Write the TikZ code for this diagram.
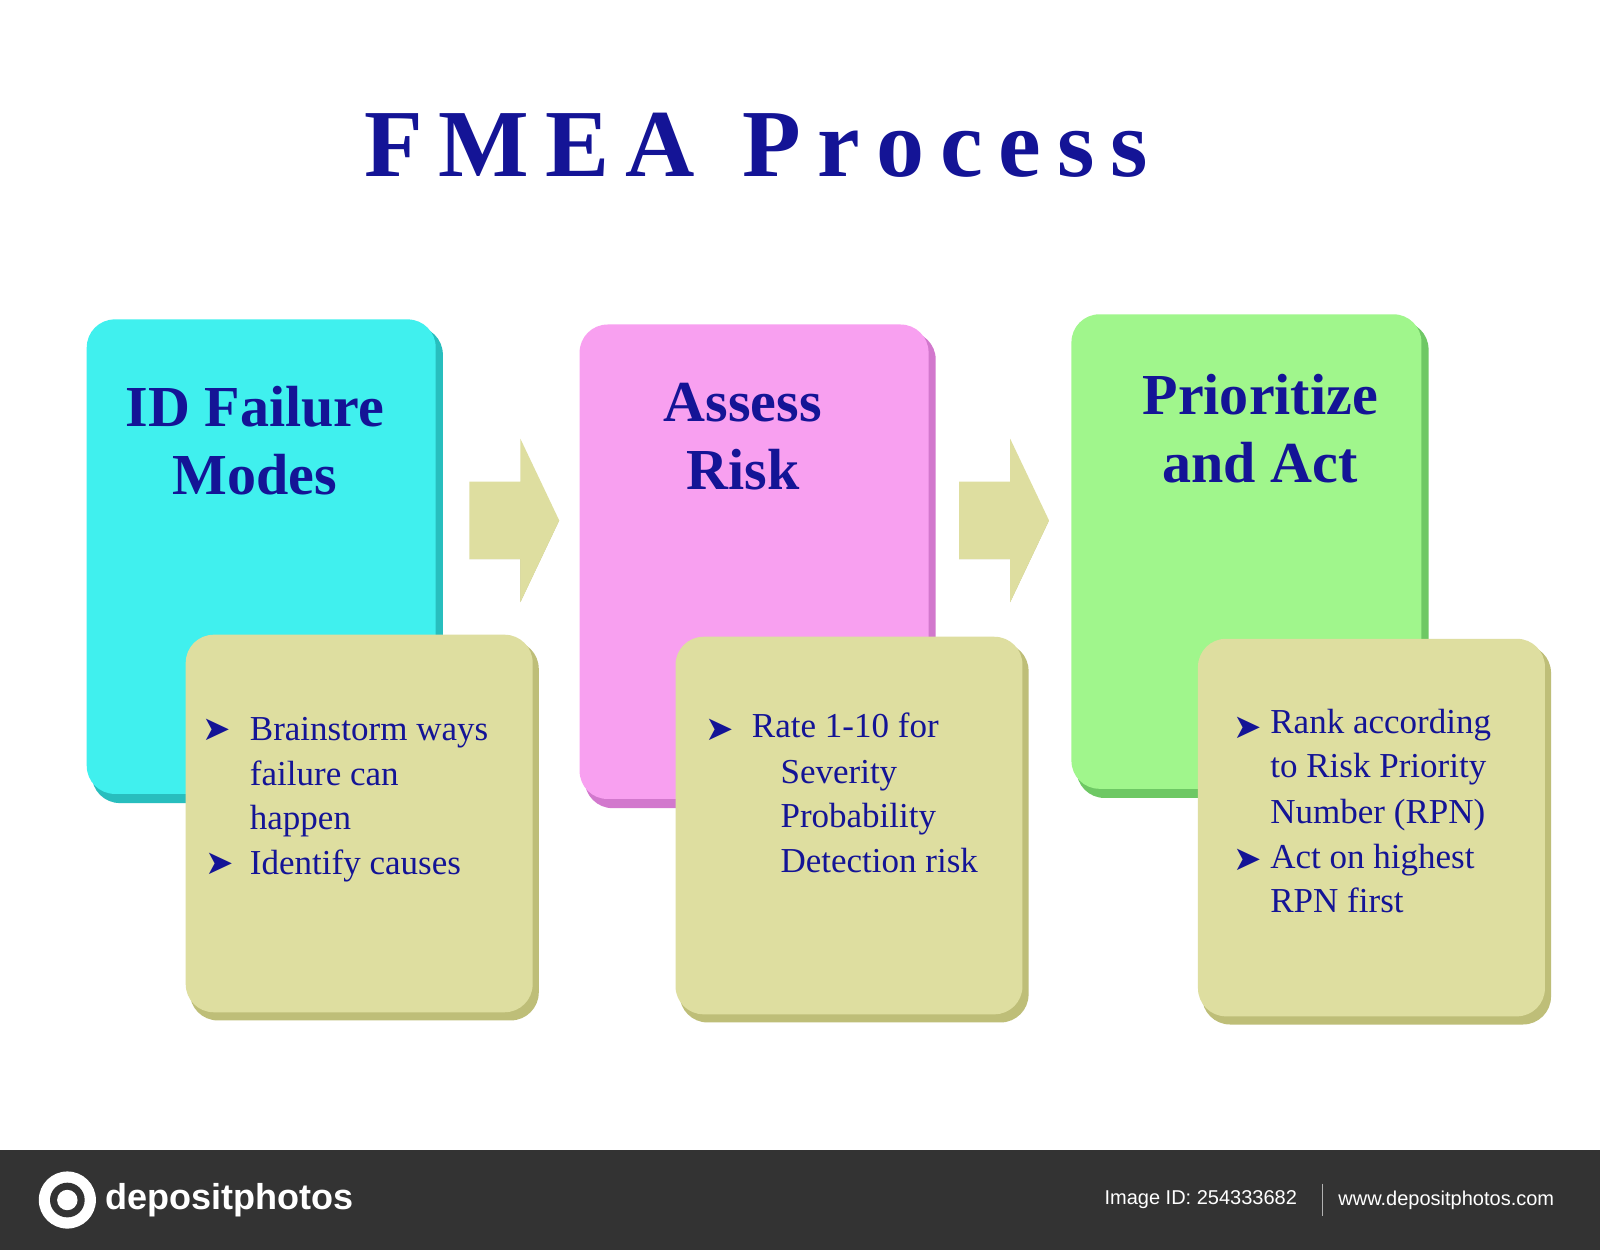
\documentclass[tikz,border=0pt]{standalone}
\usepackage{fontspec}
\setmainfont{Liberation Serif}
\newfontfamily\symf{DejaVu Sans}
\newfontfamily\sansf{Liberation Sans}
\begin{document}
\begin{tikzpicture}[x=0.51pt,y=-0.51pt,
  box/.style={rounded corners=14pt,draw=none},
  head/.style={font=\fontsize{29}{34}\selectfont\bfseries,text=ink,align=center},
  btxt/.style={font=\fontsize{17.5}{22}\selectfont,text=ink,anchor=base west},
  bul/.style={font=\symf\fontsize{17}{18}\selectfont,text=ink,anchor=base west}]
\definecolor{ink}{RGB}{20,20,150}
\definecolor{cy}{RGB}{64,240,238}\definecolor{cyd}{RGB}{40,190,190}
\definecolor{pk}{RGB}{248,160,240}\definecolor{pkd}{RGB}{210,120,205}
\definecolor{gr}{RGB}{160,246,140}\definecolor{grd}{RGB}{110,200,100}
\definecolor{kh}{RGB}{222,222,160}\definecolor{khd}{RGB}{190,190,120}
\useasboundingbox (0,0) rectangle (1568,1225);
\fill[white] (0,0) rectangle (1568,1225);
\node[font=\fontsize{48}{52}\selectfont\bfseries,text=ink] (title) at (741,142) {F\kern8pt M\kern8pt E\kern8pt A\kern24pt P\kern8pt r\kern8pt o\kern8pt c\kern8pt e\kern8pt s\kern8pt s};
% big boxes
\fill[box,cyd] (90,320) rectangle (434,787);
\fill[box,cy] (85,313) rectangle (427,778);
\fill[box,pkd] (573,325) rectangle (917,792);
\fill[box,pk] (568,318) rectangle (910,783);
\fill[box,grd] (1055,315) rectangle (1400,782);
\fill[box,gr] (1050,308) rectangle (1393,773);
\node[head] (h1) at (250,432) {ID Failure\\Modes};
\node[head] (h2) at (728,428) {Assess\\Risk};
\node[head] (h3) at (1235,420) {Prioritize\\and Act};
% arrows
\foreach \x/\n in {460/a1,940/a2}{
 \fill[khd] (\x,548) -- (\x+50,548) -- (\x+50,590) -- (\x+88,510) -- cycle;
 \fill[kh] (\x,472) -- (\x+50,472) -- (\x+50,430) -- (\x+88,510) -- (\x+50,590) -- (\x+50,548) -- (\x,548) -- cycle;
}
% small boxes
\foreach \x/\y in {182/622,662/624,1174/626}{
 \fill[box,khd] (\x+4,\y+6) rectangle (\x+346,\y+378);
 \fill[box,kh] (\x,\y) rectangle (\x+340,\y+370);
}
\node[bul] (b1) at (192,726) {➤};
\node[btxt] (t1) at (238,726) {Brainstorm ways};
\node[btxt] (t2) at (238,770) {failure can};
\node[btxt] (t3) at (238,813) {happen};
\node[bul] (b2) at (194,857) {➤};
\node[btxt] (t4) at (238,857) {Identify causes};
\node[bul] (b3) at (684,726) {➤};
\node[btxt] (t5) at (730,723) {Rate 1-10 for};
\node[btxt] (t6) at (758,768) {Severity};
\node[btxt] (t7) at (758,811) {Probability};
\node[btxt] (t8) at (758,855) {Detection risk};
\node[bul] (b4) at (1202,724) {➤};
\node[btxt] (t9) at (1238,719) {Rank according};
\node[btxt] (t10) at (1238,762) {to Risk Priority};
\node[btxt] (t11) at (1238,807) {Number (RPN)};
\node[bul] (b5) at (1202,853) {➤};
\node[btxt] (t12) at (1238,851) {Act on highest};
\node[btxt] (t13) at (1238,894) {RPN first};
% footer
\fill[black!80] (0,1127) rectangle (1568,1225);
\fill[white] (66,1176) circle (28);
\fill[black!80] (66,1176) circle (17);
\fill[white] (66,1176) circle (10);
\node[font=\sansf\bfseries\fontsize{18}{22}\selectfont,text=white,anchor=west] (logo) at (96,1176) {depositphotos};
\node[font=\sansf\fontsize{10}{12}\selectfont,text=white,anchor=east] (id) at (1278,1176) {Image ID: 254333682};
\draw[white!70!black] (1296,1160) -- (1296,1192);
\node[font=\sansf\fontsize{10}{12}\selectfont,text=white,anchor=east] (url) at (1530,1176) {www.depositphotos.com};
\end{tikzpicture}
\end{document}
